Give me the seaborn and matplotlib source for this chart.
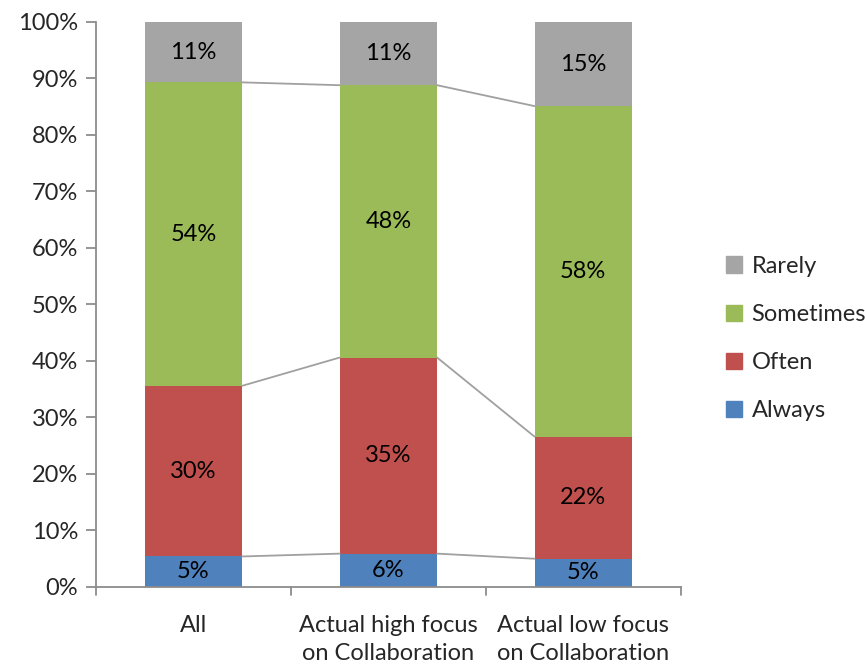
import numpy as np
import pandas as pd
import matplotlib
matplotlib.use("Agg")
import matplotlib.pyplot as plt
import seaborn as sns
from matplotlib.patches import Patch

# Datos (porcentajes)
categories = ["All", "Actual high focus\non Collaboration", "Actual low focus\non Collaboration"]
series = ["Always", "Often", "Sometimes", "Rarely"]
always = [5.4, 5.9, 5.0]
often = [30.2, 34.7, 21.6]
sometimes = [53.7, 48.2, 58.5]
rarely = [10.7, 11.2, 14.9]
labels_txt = {
    "Always": ["5%", "6%", "5%"],
    "Often": ["30%", "35%", "22%"],
    "Sometimes": ["54%", "48%", "58%"],
    "Rarely": ["11%", "11%", "15%"],
}
colors = {"Always": "#4F81BD", "Often": "#C0504D", "Sometimes": "#9BBB59", "Rarely": "#A5A5A5"}
FS = 17

sns.set_theme(style="white")
plt.rcParams["font.family"] = ["Lato", "DejaVu Sans"]

df = pd.DataFrame({"cat": categories, "Always": always, "Often": often,
                   "Sometimes": sometimes, "Rarely": rarely})
cum = df[series].cumsum(axis=1)

fig = plt.figure(figsize=(8.65, 6.64), dpi=100)
ax = fig.add_axes([0.111, 0.116, 0.676, 0.851])

# barras apiladas: se dibujan los acumulados de arriba hacia abajo
for s in reversed(series):
    sns.barplot(x=df["cat"], y=cum[s], color=colors[s], width=0.5,
                saturation=1, ax=ax, edgecolor="none", errorbar=None)

# líneas de unión entre barras
for s in series[:-1]:
    vals = cum[s].to_numpy()
    for i in range(len(categories) - 1):
        ax.plot([i + 0.25, i + 1 - 0.25], [vals[i], vals[i + 1]],
                color="#A0A0A0", lw=1.3, zorder=1)

# etiquetas
for s in series:
    tops = cum[s].to_numpy()
    hs = df[s].to_numpy()
    for i in range(len(categories)):
        ax.text(i, tops[i] - hs[i] / 2, labels_txt[s][i], ha="center", va="center",
                fontsize=FS, color="black")

ax.set_xlim(-0.5, 2.5)
ax.set_ylim(0, 100)
ax.set_yticks(np.arange(0, 101, 10))
ax.set_yticklabels([f"{v}%" for v in range(0, 101, 10)], fontsize=FS)
ax.set_xticks([0, 1, 2])
ax.set_xticklabels(categories, fontsize=FS, linespacing=1.45)
ax.tick_params(axis="x", length=0, pad=20)
ax.tick_params(axis="y", length=7, width=1.3, color="#8C8C8C", direction="out", left=True, pad=6)
# marcas en los límites de categoría
for xb in [-0.5, 0.5, 1.5, 2.5]:
    ax.plot([xb, xb], [0, -1.4], color="#8C8C8C", lw=1.3, clip_on=False)
ax.set_xlabel("")
ax.set_ylabel("")
for side in ["top", "right"]:
    ax.spines[side].set_visible(False)
for side in ["left", "bottom"]:
    ax.spines[side].set_color("#8C8C8C")
    ax.spines[side].set_linewidth(1.3)

handles = [Patch(color=colors[s], label=s) for s in reversed(series)]
fig.legend(handles=handles, loc="center left", bbox_to_anchor=(0.828, 0.49),
           frameon=False, fontsize=FS, handlelength=0.7, handleheight=0.7,
           handletextpad=0.4, labelspacing=1.15, borderaxespad=0)

fig.savefig("out.png", dpi=100)
